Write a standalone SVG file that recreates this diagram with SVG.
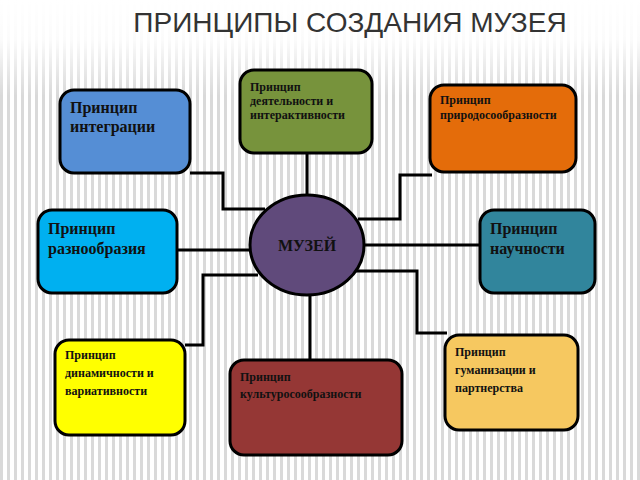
<svg xmlns="http://www.w3.org/2000/svg" width="640" height="480" viewBox="0 0 640 480">
<defs>
<pattern id="vs" width="7" height="10" patternUnits="userSpaceOnUse"><rect width="3" height="10" fill="#d9d9d9"/></pattern>
<linearGradient id="fade" x1="0" y1="0" x2="0" y2="1"><stop offset="0" stop-color="#fff" stop-opacity="1"/><stop offset="0.25" stop-color="#fff" stop-opacity="0.9"/><stop offset="0.6" stop-color="#fff" stop-opacity="0"/></linearGradient>
</defs>
<style>
.b{stroke:#000;stroke-width:3}
.c{fill:none;stroke:#000;stroke-width:3}
.t{font-family:"Liberation Serif",serif;font-weight:bold;fill:#111}
.s{font-size:12px}.m{font-size:16px}
</style>
<rect width="640" height="480" fill="#fff"/>
<rect x="0" y="0" width="640" height="480" fill="url(#vs)"/>
<rect x="0" y="0" width="640" height="160" fill="url(#fade)"/>
<text x="350" y="32" font-family="Liberation Sans,sans-serif" font-size="28" fill="#333" text-anchor="middle">ПРИНЦИПЫ СОЗДАНИЯ МУЗЕЯ</text>
<g id="connectors">
<path class="c" d="M190,173H223V209H265"/>
<path class="c" d="M307,153V197"/>
<path class="c" d="M358,219H400V175H432"/>
<path class="c" d="M364,245H482"/>
<path class="c" d="M177,250H252"/>
<path class="c" d="M258,275H203V345H185"/>
<path class="c" d="M310,294V362"/>
<path class="c" d="M352,271H417V333H447"/>
</g>
<g id="integration"><rect class="b" x="60" y="90" width="130" height="83" rx="14" fill="#558ed5"/><text class="t m" x="70" y="113">Принцип</text><text class="t m" x="70" y="132">интеграции</text></g>
<g id="activity"><rect class="b" x="240" y="70" width="132" height="83" rx="14" fill="#77933c"/><text class="t s" x="250" y="91">Принцип</text><text class="t s" x="250" y="105">деятельности и</text><text class="t s" x="250" y="119">интерактивности</text></g>
<g id="nature"><rect class="b" x="430" y="85" width="146" height="87" rx="14" fill="#e46c0a"/><text class="t s" x="440" y="104">Принцип</text><text class="t s" x="440" y="119">природосообразности</text></g>
<g id="diversity"><rect class="b" x="38" y="210" width="139" height="83" rx="14" fill="#00b0f0"/><text class="t m" x="48" y="234">Принцип</text><text class="t m" x="48" y="254">разнообразия</text></g>
<g id="science"><rect class="b" x="480" y="210" width="115" height="83" rx="14" fill="#31859c"/><text class="t m" x="490" y="234">Принцип</text><text class="t m" x="490" y="254">научности</text></g>
<g id="dynamic"><rect class="b" x="55" y="340" width="130" height="95" rx="14" fill="#ffff00"/><text class="t s" x="65" y="359">Принцип</text><text class="t s" x="65" y="377">динамичности и</text><text class="t s" x="65" y="395">вариативности</text></g>
<g id="culture"><rect class="b" x="230" y="360" width="172" height="95" rx="14" fill="#953735"/><text class="t s" x="240" y="381">Принцип</text><text class="t s" x="240" y="398">культуросообразности</text></g>
<g id="humanization"><rect class="b" x="445" y="335" width="133" height="95" rx="14" fill="#f6c860"/><text class="t s" x="455" y="356">Принцип</text><text class="t s" x="455" y="374">гуманизации и</text><text class="t s" x="455" y="392">партнерства</text></g>
<g id="museum"><ellipse class="b" cx="307" cy="245" rx="57" ry="50" fill="#604a7b"/><text class="t m" x="307" y="251" text-anchor="middle">МУЗЕЙ</text></g>
</svg>
